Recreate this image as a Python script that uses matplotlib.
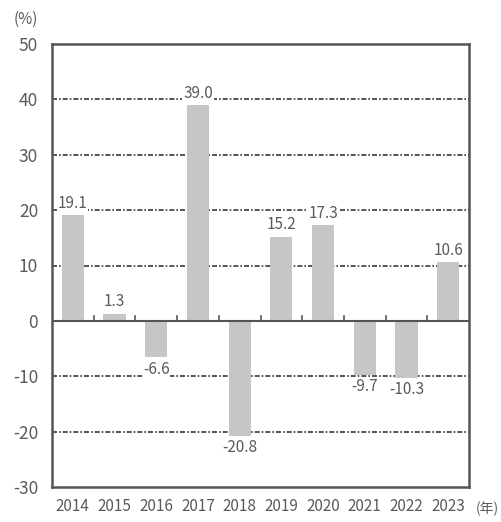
import matplotlib.pyplot as plt
import numpy as np

years = ['2014', '2015', '2016', '2017', '2018', '2019', '2020', '2021', '2022', '2023']
growth = [19.1, 1.3, -6.6, 39.0, -20.8, 15.2, 17.3, -9.7, -10.3, 10.6]
yticks = [50, 40, 30, 20, 10, 0, -10, -20, -30]

plt.rcParams['font.family'] = ['Noto Sans CJK JP', 'DejaVu Sans']
txt = '#5a5a5a'
line = '#555555'

fig = plt.figure(figsize=(5.01, 5.22), dpi=100)
ax = fig.add_axes([52 / 501, 35 / 522, 417 / 501, 443 / 522])

x = np.arange(len(years))
ax.bar(x, growth, width=0.53, color='#c6c6c6', zorder=2)

# dash-dot grid lines
for v in [40, 30, 20, 10, -10, -20]:
    ax.axhline(v, color='#3a3a3a', lw=1.2, ls=(0, (3, 1.2, 1, 1.2)), zorder=1)
ax.axhline(0, color=line, lw=1.5, zorder=3)

# small ticks on zero line between categories
for b in np.arange(0.5, len(years) - 0.5, 1):
    ax.plot([b, b], [0, 0.8], color=line, lw=1.2, zorder=3)

for xi, v in zip(x, growth):
    if v >= 0:
        ax.text(xi, v + 0.6, f'{v:.1f}', ha='center', va='bottom', fontsize=11, color=txt, zorder=4,
                bbox=dict(facecolor='white', edgecolor='none', pad=0.5))
    else:
        ax.text(xi, v - 0.6, f'{v:.1f}', ha='center', va='top', fontsize=11, color=txt, zorder=4,
                bbox=dict(facecolor='white', edgecolor='none', pad=0.5))

ax.set_xlim(-0.5, len(years) - 0.5)
ax.set_ylim(-30, 50)
ax.set_yticks(yticks)
ax.set_yticklabels([str(t) for t in yticks], fontsize=12.5, color=txt)
ax.set_xticks(x)
ax.set_xticklabels(years, fontsize=11, color=txt)
ax.tick_params(axis='x', length=0, pad=8)
ax.tick_params(axis='y', length=0, pad=10)
for s in ax.spines.values():
    s.set_color(line)
    s.set_linewidth(1.8)

fig.text(14 / 501, 500 / 522 + 0.005, '(%)', fontsize=11, color=txt, va='center', ha='left')
fig.text(476 / 501, 13 / 522, '(年)', fontsize=10, color=txt, va='center', ha='left')

fig.savefig('out.png', dpi=100, facecolor='white')
